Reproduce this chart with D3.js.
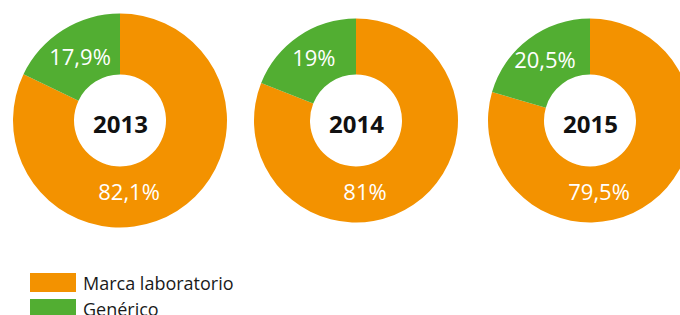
<!DOCTYPE html>
<html>
<head>
<meta charset="utf-8">
<script src="https://cdn.jsdelivr.net/npm/d3@7"></script>
<style>
  html, body { margin: 0; padding: 0; background: #fff; }
  svg { display: block; font-family: "Open Sans", "Noto Sans", sans-serif; }
</style>
</head>
<body>
<div id="chart"></div>
<script>
"use strict";

// data
var years = ["2013", "2014", "2015"];
var categories = ["Marca laboratorio", "Genérico"];
var marca = [82.1, 81, 79.5];
var generico = [17.9, 19, 20.5];
var labelsMarca = ["82,1%", "81%", "79,5%"];
var labelsGenerico = ["17,9%", "19%", "20,5%"];

var colors = ["#f39200", "#52ae32"];

var width = 680, height = 315;

// layout of the three rings
var centersX = [120, 356, 590];
var centerY = 120.5;
var outerR = [107, 102, 102];
var innerR = 46;

var svg = d3.select("#chart").append("svg")
  .attr("width", width)
  .attr("height", height);

var pie = d3.pie().sort(null);
var color = d3.scaleOrdinal().domain(categories).range(colors);

years.forEach(function (year, i) {
  var g = svg.append("g")
    .attr("transform", "translate(" + centersX[i] + "," + centerY + ")");

  var arcs = pie([marca[i], generico[i]]);
  var arc = d3.arc().innerRadius(innerR).outerRadius(outerR[i]);

  g.selectAll("path")
    .data(arcs)
    .join("path")
    .attr("d", arc)
    .attr("fill", function (d, k) { return color(categories[k]); });

  // green label at the slice mid angle, orange label near the bottom
  var gAng = (arcs[1].startAngle + arcs[1].endAngle) / 2;
  var oAng = Math.PI * 0.96;
  var labels = [
    { text: labelsMarca[i], a: oAng, r: 72 },
    { text: labelsGenerico[i], a: gAng, r: 75 }
  ];
  g.selectAll("text.pct")
    .data(labels)
    .join("text")
    .attr("class", "pct")
    .attr("x", function (d) { return Math.sin(d.a) * d.r; })
    .attr("y", function (d) { return -Math.cos(d.a) * d.r; })
    .attr("dy", "0.36em")
    .attr("text-anchor", "middle")
    .attr("fill", "#fff")
    .attr("font-size", "22px")
    .text(function (d) { return d.text; });

  g.append("text")
    .attr("x", 0.5)
    .attr("y", 4)
    .attr("dy", "0.36em")
    .attr("text-anchor", "middle")
    .attr("font-size", "24px")
    .attr("font-weight", "bold")
    .attr("fill", "#111")
    .text(year);
});

// legend
var legend = svg.append("g").attr("transform", "translate(30,273)");
var item = legend.selectAll("g")
  .data(categories)
  .join("g")
  .attr("transform", function (d, k) { return "translate(0," + k * 26 + ")"; });
item.append("rect")
  .attr("width", 46)
  .attr("height", 19)
  .attr("fill", function (d) { return color(d); });
item.append("text")
  .attr("x", 53)
  .attr("y", 11)
  .attr("dy", "0.36em")
  .attr("font-size", "18px")
  .attr("fill", "#1a1a1a")
  .text(function (d) { return d; });
</script>
</body>
</html>
